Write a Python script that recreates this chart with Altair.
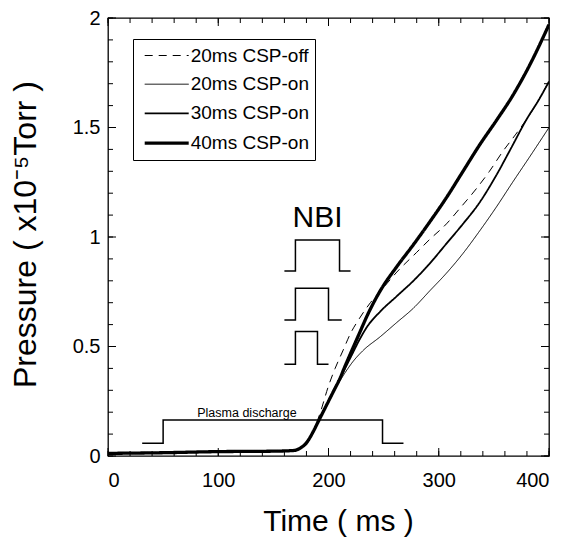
import altair as alt
import pandas as pd

# ---------------- data ----------------
series = ["20ms CSP-off", "20ms CSP-on", "30ms CSP-on", "40ms CSP-on"]

t_off = [0, 50, 100, 150, 168, 174, 179, 185, 192, 200, 206, 213, 220, 227, 238, 250, 262, 280, 292, 307, 319, 334, 346, 358, 370, 380, 390, 400]
p_off = [0.012, 0.015, 0.02, 0.022, 0.025, 0.035, 0.055, 0.10, 0.19, 0.32, 0.40, 0.48, 0.56, 0.62, 0.70, 0.77, 0.84, 0.93, 0.99, 1.06, 1.13, 1.22, 1.30, 1.39, 1.47, 1.54, 1.62, 1.71]

t_20 = [0, 50, 100, 150, 168, 174, 180, 186, 190, 195, 200, 205, 210, 215, 222, 231, 247, 262, 277, 292, 307, 322, 336, 352, 367, 383, 400]
p_20 = [0.012, 0.015, 0.02, 0.022, 0.025, 0.035, 0.06, 0.11, 0.15, 0.20, 0.25, 0.30, 0.34, 0.38, 0.43, 0.48, 0.545, 0.61, 0.675, 0.755, 0.835, 0.925, 1.02, 1.135, 1.25, 1.37, 1.50]

t_30 = [0, 50, 100, 150, 168, 174, 180, 186, 190, 195, 200, 205, 210, 215, 221, 228, 235, 247, 262, 277, 292, 307, 322, 336, 352, 365, 380, 390, 400]
p_30 = [0.012, 0.015, 0.02, 0.022, 0.025, 0.035, 0.06, 0.11, 0.15, 0.20, 0.25, 0.30, 0.35, 0.40, 0.46, 0.53, 0.59, 0.66, 0.73, 0.80, 0.88, 0.97, 1.06, 1.15, 1.28, 1.40, 1.54, 1.62, 1.71]

t_40 = [0, 50, 100, 150, 168, 174, 180, 186, 190, 195, 200, 205, 210, 215, 221, 228, 235, 247, 262, 277, 292, 307, 322, 337, 352, 367, 383, 400]
p_40 = [0.012, 0.015, 0.02, 0.022, 0.025, 0.035, 0.06, 0.11, 0.15, 0.20, 0.25, 0.30, 0.35, 0.41, 0.48, 0.56, 0.64, 0.755, 0.865, 0.965, 1.07, 1.18, 1.30, 1.42, 1.53, 1.645, 1.79, 1.97]

# NBI pulses: (start, on, off, end, base, top)
nbi_start = [160, 160, 160]
nbi_on = [170, 170, 170]
nbi_off = [210, 200, 190]
nbi_end = [220, 212, 200]
nbi_base = [0.845, 0.621, 0.419]
nbi_top = [0.986, 0.766, 0.568]

# plasma discharge
pd_times = [31, 50, 249, 268]
pd_base = 0.058
pd_top = 0.164

x_ticks_minor = list(range(0, 401, 20))
x_ticks_major = [0, 100, 200, 300, 400]
y_ticks_minor = [round(i * 0.1, 1) for i in range(0, 21)]
y_ticks_major = [0, 0.5, 1, 1.5, 2]

labels_text = ["NBI", "Plasma discharge"]
labels_t = [190, 126]
labels_p = [1.047, 0.178]

# ---------------- tables ----------------
rows = []
for name, ts, ps in zip(series, [t_off, t_20, t_30, t_40], [p_off, p_20, p_30, p_40]):
    for t, p in zip(ts, ps):
        rows.append({"series": name, "t": t, "p": p})
curves = pd.DataFrame(rows)

ann = []
for i in range(3):
    pts = [(nbi_start[i], nbi_base[i]), (nbi_on[i], nbi_base[i]), (nbi_on[i], nbi_top[i]),
           (nbi_off[i], nbi_top[i]), (nbi_off[i], nbi_base[i]), (nbi_end[i], nbi_base[i])]
    for k, (t, p) in enumerate(pts):
        ann.append({"id": f"nbi{i}", "k": k, "t": t, "p": p})
pts = [(pd_times[0], pd_base), (pd_times[1], pd_base), (pd_times[1], pd_top),
       (pd_times[2], pd_top), (pd_times[2], pd_base), (pd_times[3], pd_base)]
for k, (t, p) in enumerate(pts):
    ann.append({"id": "plasma", "k": k, "t": t, "p": p})
ann = pd.DataFrame(ann)

lab = pd.DataFrame({"t": labels_t, "p": labels_p, "text": labels_text})

W, H = 441, 438
FONT = "Liberation Sans"

xs = alt.Scale(domain=[0, 400], nice=False, zero=False)
ys = alt.Scale(domain=[0, 2], nice=False, zero=False)

leg = alt.Legend(title=None, orient="none", legendX=25, legendY=21,
                 strokeColor="black", fillColor="white", padding=6,
                 symbolType="M-2.2,0H2.2", symbolSize=20 * 20, symbolStrokeColor="black",
                 labelFont=FONT, labelFontSize=19, labelColor="black", rowPadding=7.7,
                 labelOffset=12, symbolOffset=15.7, labelLimit=300)

lines = alt.Chart(curves).mark_line(interpolate="monotone", color="black", clip=True).encode(
    x=alt.X("t:Q", scale=xs,
            axis=alt.Axis(values=x_ticks_major, ticks=False, domain=False, grid=False,
                          labelFontSize=20, labelFont=FONT, labelColor="black", labelPadding=14,
                          title="Time ( ms )", titleFontSize=30, titleFont=FONT,
                          titleFontWeight="normal", titleColor="black",
                          titleX=230, titleY=74, titleBaseline="alphabetic", titleAlign="center")),
    y=alt.Y("p:Q", scale=ys,
            axis=alt.Axis(values=y_ticks_major, ticks=False, domain=False, grid=False,
                          labelFontSize=20, labelFont=FONT, labelColor="black", labelPadding=8,
                          labelExpr="datum.value == 0 ? '0' : format(datum.value, '.2~f')",
                          title="Pressure ( x10⁻⁵Torr )", titleFontSize=32, titleFont=FONT,
                          titleFontWeight="normal", titleColor="black",
                          titleX=-73, titleY=216, titleBaseline="alphabetic", titleAlign="center",
                          titleAngle=270)),
    strokeWidth=alt.StrokeWidth("series:N",
                                scale=alt.Scale(type="ordinal", domain=series, range=[1, 1, 1.8, 3.3]),
                                legend=leg),
    strokeDash=alt.StrokeDash("series:N",
                              scale=alt.Scale(domain=series, range=[[8, 6], [1, 0], [1, 0], [1, 0]]),
                              legend=leg),
    detail="series:N",
)

annot = alt.Chart(ann).mark_line(color="black", strokeWidth=1.5).encode(
    x=alt.X("t:Q", scale=xs), y=alt.Y("p:Q", scale=ys), detail="id:N", order="k:Q"
)

nbi_text = alt.Chart(lab.iloc[[0]]).mark_text(font=FONT, fontSize=30, baseline="alphabetic", color="black").encode(
    x=alt.X("t:Q", scale=xs), y=alt.Y("p:Q", scale=ys), text="text:N")
pl_text = alt.Chart(lab.iloc[[1]]).mark_text(font=FONT, fontSize=12.5, baseline="alphabetic", color="black").encode(
    x=alt.X("t:Q", scale=xs), y=alt.Y("p:Q", scale=ys), text="text:N")


def xtick(vals, y0, y1):
    return alt.Chart(pd.DataFrame({"v": vals})).mark_rule(color="black", strokeWidth=1).encode(
        x=alt.X("v:Q", scale=xs), y=alt.value(y0), y2=alt.value(y1))


def ytick(vals, x0, x1):
    return alt.Chart(pd.DataFrame({"v": vals})).mark_rule(color="black", strokeWidth=1).encode(
        y=alt.Y("v:Q", scale=ys), x=alt.value(x0), x2=alt.value(x1))


MAJ, MIN = 8, 5
ticks = [
    xtick(x_ticks_minor, H, H - MIN), xtick(x_ticks_major, H, H - MAJ),
    xtick(x_ticks_minor, 0, MIN), xtick(x_ticks_major, 0, MAJ),
    ytick(y_ticks_minor, 0, MIN), ytick(y_ticks_major, 0, MAJ),
    ytick(y_ticks_minor, W, W - MIN), ytick(y_ticks_major, W, W - MAJ),
]

chart = alt.layer(annot, nbi_text, pl_text, *ticks, lines).properties(
    width=W, height=H,
    background="white",
    autosize=alt.AutoSizeParams(type="none"),
    padding={"left": 100, "top": 10, "right": 20, "bottom": 81},
).configure_view(stroke="black", strokeWidth=1.3)

chart.save("out.html", embed_options={"renderer": "svg", "actions": False})
